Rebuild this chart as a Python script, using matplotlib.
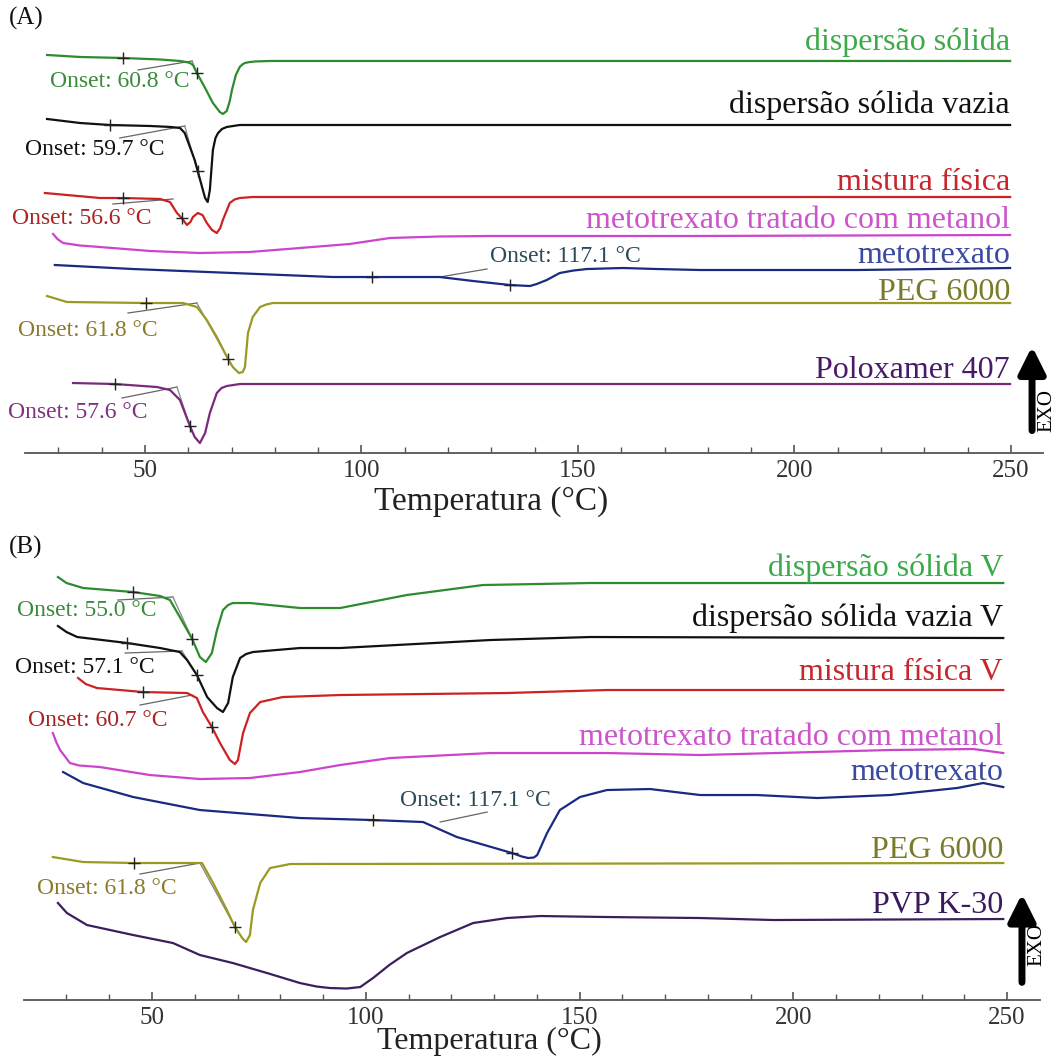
import matplotlib.pyplot as plt
from matplotlib.patches import FancyArrowPatch

plt.rcParams['font.family'] = ['Liberation Serif', 'DejaVu Serif']

# ---------------- Panel A data (temperature in °C, heat flow in arbitrary units) ----------------
a_disp_T = [27.4, 35.0, 44.9, 53.5, 58.1, 59.5, 60.4, 61.1, 62.0, 63.9, 65.7, 67.3, 68.0, 68.9, 69.6, 70.1, 71.0, 71.9, 72.5, 73.1, 74.0, 75.4, 78.9, 249.8]
a_disp_hf = [6, 4, 3, 1.5, 0, -1, -2, -4, -12, -27, -42, -51, -53, -50, -40, -29, -14, -6, -3.5, -2, -1.2, -0.5, 0, 0]

a_vazia_T = [27.4, 35.0, 41.9, 51.2, 56.0, 58.1, 59.2, 60.4, 61.5, 62.2, 63.2, 63.9, 64.5, 65.0, 65.7, 66.3, 66.9, 67.8, 68.9, 71.9, 249.8]
a_vazia_hf = [6, 2, 0, -1, -2, -3, -8, -22, -35, -46, -62, -73, -77, -65, -25, -13, -8, -4, -2, 0, 0]

a_mist_T = [26.9, 39.6, 44.9, 53.5, 55.8, 57.4, 58.5, 59.7, 60.5, 61.1, 62.2, 63.3, 64.3, 65.5, 66.6, 67.4, 68.0, 69.6, 70.7, 71.9, 74.9, 249.8]
a_mist_hf = [4, -1, -1, -2, -5, -16, -21, -28, -25, -20, -16, -18, -26, -33, -36, -31, -23, -6, -2.5, -1, 0, 0]

a_mtxmet_T = [28.8, 29.8, 31.1, 35.0, 39.6, 51.2, 62.7, 74.2, 85.8, 97.3, 106.6, 118.0, 129.7, 175.9, 249.8]
a_mtxmet_hf = [2, -3, -7, -9.5, -11, -15, -17, -16, -12, -8, -2, -0.5, 0, 0, 1]

a_mtx_T = [29.2, 47.2, 70.3, 93.4, 102.4, 118.1, 125.8, 134.3, 138.9, 140.5, 142.8, 145.8, 149.0, 152.1, 160.4, 168.2, 178.2, 189.0, 214.4, 249.8]
a_mtx_hf = [4, 0, -4, -8, -8, -8, -12, -16, -17, -15, -11, -4, -1.5, 0, 1, 0, -1, -1, -1, 1]

a_peg_T = [27.4, 32.0, 50.2, 58.8, 62.0, 64.3, 66.6, 69.2, 70.3, 71.7, 72.6, 73.1, 73.8, 74.9, 76.6, 78.0, 79.6, 249.8]
a_peg_hf = [7, 1, 0, 0, -4, -17, -34, -56, -64, -70, -69, -64, -30, -14, -4, -1.5, 0, 0]

a_polox_T = [33.4, 43.1, 52.8, 55.8, 58.1, 60.4, 61.5, 62.7, 63.9, 65.0, 66.6, 67.7, 68.9, 71.9, 249.8]
a_polox_hf = [1, 0, -3, -6, -16, -42, -53, -59, -49, -29, -9, -4, -2, 0, 0]

# ---------------- Panel B data ----------------
b_disp_T = [28.0, 30.0, 33.9, 45.6, 51.9, 54.2, 56.5, 59.4, 61.2, 62.6, 64.0, 65.2, 66.6, 67.8, 68.9, 72.9, 84.6, 94.0, 109.6, 127.4, 152.5, 249.1]
b_disp_hf = [6, 0, -5, -9, -13, -17, -34, -56, -74, -79, -70, -47, -27, -22, -20, -20, -25, -25, -12, -2, 0, 0]

b_vazia_T = [28.0, 30.0, 32.5, 44.2, 51.9, 56.5, 58.2, 60.5, 62.9, 65.2, 66.6, 67.8, 68.9, 70.6, 72.0, 73.6, 84.6, 94.0, 129.1, 152.5, 249.1]
b_vazia_hf = [12, 6, 1, -5, -10, -14, -22, -37, -59, -70, -74, -65, -39, -20, -16, -14, -10, -10, -2, 1, 0]

b_mist_T = [32.7, 34.5, 37.1, 47.9, 58.2, 60.5, 61.9, 64.0, 65.9, 68.2, 69.4, 70.1, 71.3, 72.9, 75.3, 80.6, 94.0, 133.0, 156.4, 249.1]
b_mist_hf = [12, 6, 2, -2, -3, -8, -22, -37, -53, -70, -74, -70, -43, -23, -12, -7, -5, -3, 0, 0]

b_mtxmet_T = [26.8, 27.6, 28.5, 30.8, 33.0, 37.8, 49.5, 61.2, 72.9, 84.6, 94.0, 105.7, 129.1, 156.4, 178.2, 222.6, 242.1, 249.1]
b_mtxmet_hf = [21, 12, 4, -9, -11.5, -13, -21, -25, -24, -18, -11, -4, 1, 1, -1, 4, 5, 1]

b_mtx_T = [29.2, 33.9, 45.6, 61.2, 84.6, 101.7, 113.4, 121.3, 134.2, 136.5, 138.0, 139.3, 140.1, 142.4, 145.4, 150.1, 156.4, 166.5, 178.2, 191.5, 205.6, 222.6, 238.3, 244.4, 249.1]
b_mtx_hf = [20, 9, -5, -18, -26, -28, -30, -45, -61, -64.5, -66, -65.5, -63, -41, -18, -5, 2, 3, -3, -3, -6, -3, 4, 9, 5]

b_peg_T = [26.8, 33.9, 45.8, 58.9, 61.7, 64.3, 67.5, 69.4, 71.1, 72.0, 72.9, 73.6, 75.3, 77.6, 82.3, 249.1]
b_peg_hf = [6, 1, 0, 0, 0, -20, -47, -64, -75, -79, -72, -47, -20, -5, -1, 0]

b_pvp_T = [28.0, 30.1, 34.8, 45.6, 54.9, 61.2, 68.9, 76.9, 84.6, 88.5, 91.6, 95.5, 98.7, 101.7, 105.5, 109.6, 117.4, 125.1, 133.0, 140.8, 156.4, 178.2, 195.3, 249.1]
b_pvp_hf = [15, 5, -7, -17, -25, -37, -45, -55, -65, -68.5, -70, -70.5, -69, -60, -47, -35, -19, -5, 0, 2, 1, 0, -2, -1]

# labels
a_names = ['dispersão sólida', 'dispersão sólida vazia', 'mistura física',
           'metotrexato tratado com metanol', 'metotrexato', 'PEG 6000', 'Poloxamer 407']
b_names = ['dispersão sólida V', 'dispersão sólida vazia V', 'mistura física V',
           'metotrexato tratado com metanol', 'metotrexato', 'PEG 6000', 'PVP K-30']

# onset values (°C) for annotated curves
a_onsets = ['60.8', '59.7', '56.6', None, '117.1', '61.8', '57.6']
b_onsets = ['55.0', '57.1', '60.7', None, '117.1', '61.8', None]

# ---------------- styling / layout ----------------
a_line_colors = ['#2e8b2e', '#111111', '#cc2222', '#cc44cc', '#1a2a80', '#9a9a22', '#7a2a7a']
a_label_colors = ['#3caa4a', '#111111', '#c8262c', '#cc55cc', '#3a4aa0', '#7a7a2a', '#4a1a6a']
a_onset_colors = ['#3a8a3a', '#111111', '#aa2222', None, '#2a4a5a', '#8a7a2a', '#803080']
b_line_colors = ['#2e8b2e', '#111111', '#cc2222', '#cc44cc', '#1a2a80', '#9a9a22', '#3b1f5c']
b_label_colors = ['#3caa4a', '#111111', '#c8262c', '#cc55cc', '#3a4aa0', '#7a7a2a', '#3a1a5a']
b_onset_colors = ['#3a8a3a', '#111111', '#aa2222', None, '#2a4a5a', '#8a7a2a', None]

a_offsets = [-61, -125, -197, -236, -269, -303, -384]
b_offsets = [-583, -638, -690, -754, -792, -863, -918]
a_label_dy = [19, 20, 14, 16, 14, 11, 14]
b_label_dy = [15, 20, 18, 17, 20, 13, 13]

# onset construction lines: (T0, hf0, T1, hf1) relative to curve baseline
a_onset_lines = [(48.4, -9, 60.9, 0), (44.2, -13, 59.2, -1), (42.6, -7, 56.5, -2), None,
                 (118.1, -8, 129.0, 0), (46.1, -10, 62.0, 0), (44.7, -14, 57.4, -3)]
a_steep_lines = [(60.9, 0, 62.0, -12), (59.2, -1, 62.7, -55), None, None,
                 None, (62.0, 0, 69.2, -56), (57.4, -3, 60.4, -42)]
a_ticks = [[(44.9, 3), (62.0, -12)], [(41.9, 0), (62.2, -46)], [(44.9, -1), (58.5, -21)], [],
           [(102.4, -8), (134.3, -16)], [(50.2, 0), (69.2, -56)], [(43.1, 0), (60.4, -42)]]
a_onset_pos = [(28.1, -21), (22.3, -25), (19.3, -21), None, (129.7, 13), (20.7, -27), (18.4, -28)]

b_onset_lines = [(42.0, -17, 54.9, -14), (43.7, -15, 57.0, -13), (47.2, -15, 59.4, -5), None,
                 (117.4, -30, 128.4, -20), (47.2, -11, 61.2, 0), None]
b_steep_lines = [(54.9, -14, 59.4, -56), (57.0, -13, 60.5, -37), None, None,
                 None, (61.2, 0, 69.4, -64), None]
b_ticks = [[(45.6, -9), (59.4, -56)], [(44.2, -5), (60.5, -37)], [(47.9, -2), (64.0, -37)], [],
           [(101.7, -28), (134.2, -61)], [(45.8, 0), (69.4, -64)], []]
b_onset_pos = [(18.4, -27), (17.9, -29), (21.0, -30), None, (108.0, -8), (23.1, -25), None]

a_curves = [(a_disp_T, a_disp_hf), (a_vazia_T, a_vazia_hf), (a_mist_T, a_mist_hf),
            (a_mtxmet_T, a_mtxmet_hf), (a_mtx_T, a_mtx_hf), (a_peg_T, a_peg_hf), (a_polox_T, a_polox_hf)]
b_curves = [(b_disp_T, b_disp_hf), (b_vazia_T, b_vazia_hf), (b_mist_T, b_mist_hf),
            (b_mtxmet_T, b_mtxmet_hf), (b_mtx_T, b_mtx_hf), (b_peg_T, b_peg_hf), (b_pvp_T, b_pvp_hf)]


def draw_panel(ax, curves, names, offsets, line_colors, label_colors, label_dy,
               onsets, onset_colors, onset_lines, steep_lines, ticks, onset_pos, label_T,
               xlab_y, xlab_size):
    for i, (T, hf) in enumerate(curves):
        off = offsets[i]
        ax.plot(T, [v + off for v in hf], color=line_colors[i], lw=1.6, zorder=3,
                solid_joinstyle='round')
        ax.text(label_T, off + label_dy[i], names[i], color=label_colors[i], fontsize=23,
                ha='right', va='center')
        if onset_lines[i] is not None:
            t0, h0, t1, h1 = onset_lines[i]
            ax.plot([t0, t1], [h0 + off, h1 + off], color='#666666', lw=0.9, zorder=2)
        if steep_lines[i] is not None:
            t0, h0, t1, h1 = steep_lines[i]
            ax.plot([t0, t1], [h0 + off, h1 + off], color='#888888', lw=0.9, zorder=2)
        for (tt, hh) in ticks[i]:
            ax.plot([tt], [hh + off], marker='+', ms=9, mew=1.0, color='#222222', zorder=4)
        if onsets[i] is not None:
            tx, ty = onset_pos[i]
            ax.text(tx, ty + off, 'Onset: ' + onsets[i] + ' °C', color=onset_colors[i],
                    fontsize=17, ha='left', va='center')

    for s in ['left', 'right', 'top']:
        ax.spines[s].set_visible(False)
    ax.spines['bottom'].set_color('#555555')
    ax.spines['bottom'].set_linewidth(1.3)
    ax.set_yticks([])
    ax.set_xticks([50, 100, 150, 200, 250])
    ax.set_xticks(range(30, 251, 10), minor=True)
    ax.tick_params(axis='x', which='major', direction='in', length=6, width=1.2,
                   color='#555555', labelsize=18, labelcolor='#333333', pad=5)
    ax.tick_params(axis='x', which='minor', direction='in', length=4, width=1.0, color='#555555')
    ax.set_xlabel('Temperatura (°C)', fontsize=xlab_size, color='#222222')
    ax.xaxis.label.set_va('center')
    ax.xaxis.set_label_coords(0.458, xlab_y)


fig = plt.figure(figsize=(10.62, 10.57), dpi=100)

axA = fig.add_axes([0.0235, 0.5714, 0.9586, 0.4097])
axA.set_xlim(22.3, 257.4)
axA.set_ylim(-453, -20)
draw_panel(axA, a_curves, a_names, a_offsets, a_line_colors, a_label_colors, a_label_dy,
           a_onsets, a_onset_colors, a_onset_lines, a_steep_lines, a_ticks, a_onset_pos, 249.8,
           -0.112, 24)

axB = fig.add_axes([0.0226, 0.0539, 0.9567, 0.4352])
axB.set_xlim(20.06, 257.7)
axB.set_ylim(-1000, -540)
draw_panel(axB, b_curves, b_names, b_offsets, b_line_colors, b_label_colors, b_label_dy,
           b_onsets, b_onset_colors, b_onset_lines, b_steep_lines, b_ticks, b_onset_pos, 249.1,
           -0.091, 23)

# panel letters
fig.text(0.008, 0.983, '(A)', fontsize=18, ha='left', va='center', color='#111111')
fig.text(0.008, 0.482, '(B)', fontsize=18, ha='left', va='center', color='#111111')

# EXO arrows
for x0, y0, y1, ytxt in [(0.9718, 0.590, 0.675, 0.612), (0.9623, 0.068, 0.157, 0.106)]:
    fig.add_artist(FancyArrowPatch(
        (x0, y0), (x0, y1), transform=fig.transFigure, arrowstyle='-|>,head_length=0.9,head_width=0.45',
        mutation_scale=18, lw=5, color='black'))
    fig.text(x0 + 0.014, ytxt, 'EXO', rotation=90, fontsize=15, ha='center', va='center')

fig.savefig('out.png', dpi=100, facecolor='white')
